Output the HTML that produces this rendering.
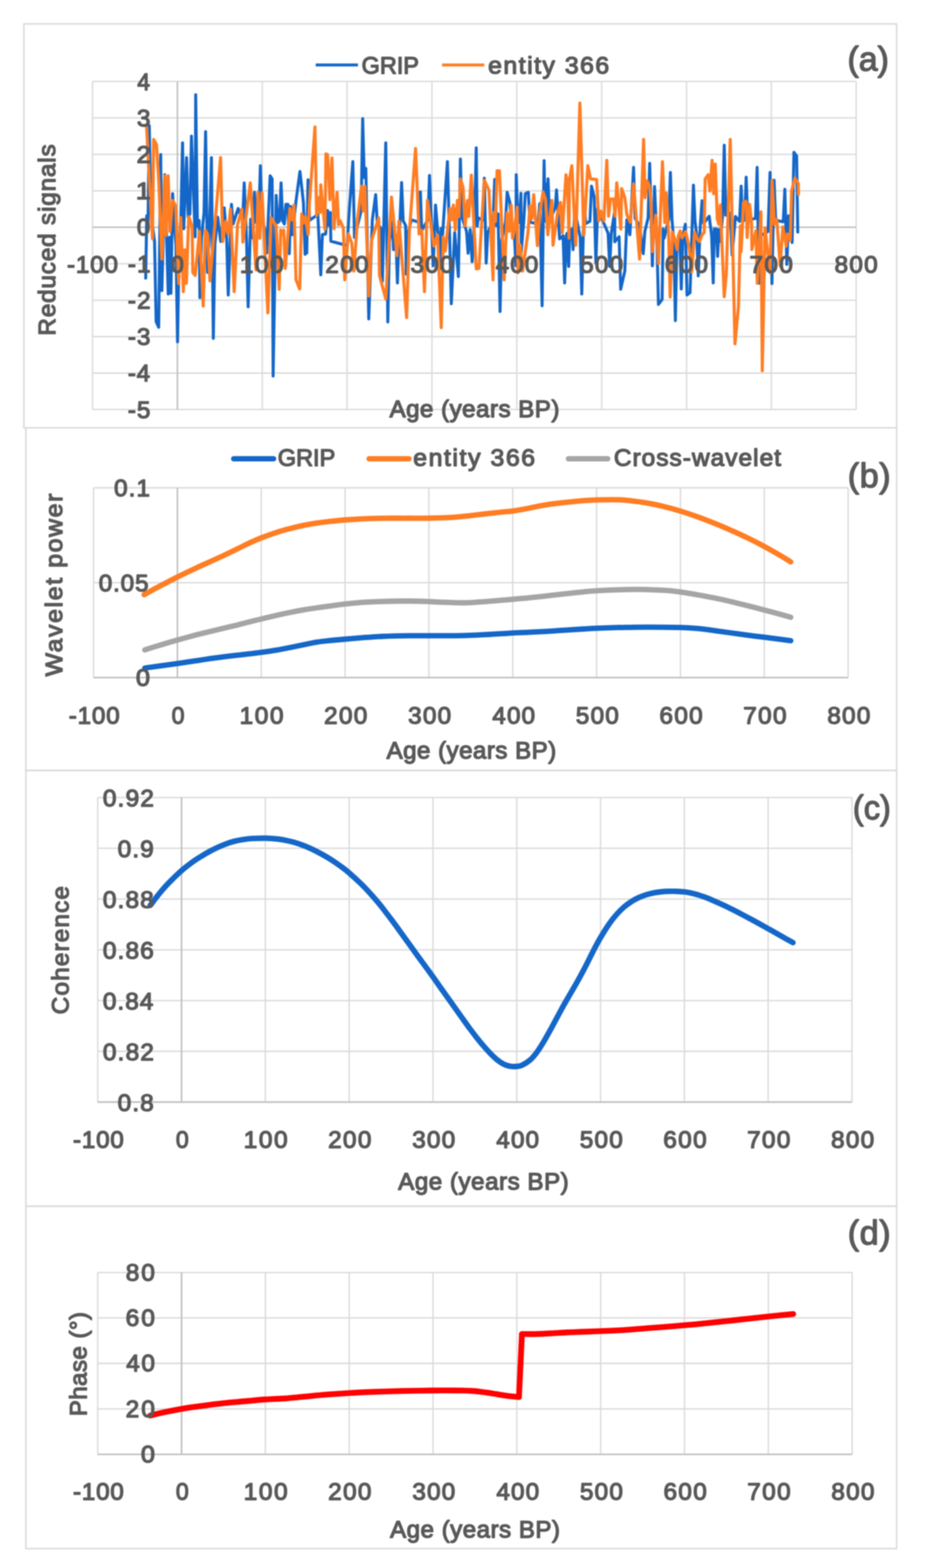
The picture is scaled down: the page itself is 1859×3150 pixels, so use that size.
<!DOCTYPE html>
<html><head><meta charset="utf-8"><title>Figure</title>
<style>
html,body{margin:0;padding:0;background:#fff;}
body{width:1859px;height:3150px;overflow:hidden;}
svg{display:block;font-family:"Liberation Sans",sans-serif;font-weight:normal;filter:blur(0.8px);}
text{fill:#595959;stroke:#595959;stroke-width:2.4px;stroke-linejoin:round;}
</style></head><body>
<svg xmlns="http://www.w3.org/2000/svg" width="1859" height="3150" viewBox="0 0 1859 3150">
<rect x="0" y="0" width="1859" height="3150" fill="#fff"/>
<rect x="48.00" y="48.00" width="1754.00" height="811.50" fill="none" stroke="#DADADA" stroke-width="3"/>
<rect x="52.00" y="859.50" width="1750.00" height="688.20" fill="none" stroke="#DADADA" stroke-width="3"/>
<rect x="52.00" y="1547.70" width="1750.00" height="875.50" fill="none" stroke="#DADADA" stroke-width="3"/>
<rect x="52.00" y="2423.20" width="1750.00" height="687.80" fill="none" stroke="#DADADA" stroke-width="3"/>
<line x1="186.00" y1="163.70" x2="1720.70" y2="163.70" stroke="#DBDBDB" stroke-width="2.8"/>
<line x1="186.00" y1="236.92" x2="1720.70" y2="236.92" stroke="#DBDBDB" stroke-width="2.8"/>
<line x1="186.00" y1="310.14" x2="1720.70" y2="310.14" stroke="#DBDBDB" stroke-width="2.8"/>
<line x1="186.00" y1="383.37" x2="1720.70" y2="383.37" stroke="#DBDBDB" stroke-width="2.8"/>
<line x1="186.00" y1="456.59" x2="1720.70" y2="456.59" stroke="#DBDBDB" stroke-width="2.8"/>
<line x1="186.00" y1="529.81" x2="1720.70" y2="529.81" stroke="#DBDBDB" stroke-width="2.8"/>
<line x1="186.00" y1="603.03" x2="1720.70" y2="603.03" stroke="#DBDBDB" stroke-width="2.8"/>
<line x1="186.00" y1="676.26" x2="1720.70" y2="676.26" stroke="#DBDBDB" stroke-width="2.8"/>
<line x1="186.00" y1="749.48" x2="1720.70" y2="749.48" stroke="#DBDBDB" stroke-width="2.8"/>
<line x1="186.00" y1="822.70" x2="1720.70" y2="822.70" stroke="#DBDBDB" stroke-width="2.8"/>
<line x1="186.00" y1="163.70" x2="186.00" y2="822.70" stroke="#DBDBDB" stroke-width="2.8"/>
<line x1="356.52" y1="163.70" x2="356.52" y2="822.70" stroke="#DBDBDB" stroke-width="2.8"/>
<line x1="527.04" y1="163.70" x2="527.04" y2="822.70" stroke="#DBDBDB" stroke-width="2.8"/>
<line x1="697.57" y1="163.70" x2="697.57" y2="822.70" stroke="#DBDBDB" stroke-width="2.8"/>
<line x1="868.09" y1="163.70" x2="868.09" y2="822.70" stroke="#DBDBDB" stroke-width="2.8"/>
<line x1="1038.61" y1="163.70" x2="1038.61" y2="822.70" stroke="#DBDBDB" stroke-width="2.8"/>
<line x1="1209.13" y1="163.70" x2="1209.13" y2="822.70" stroke="#DBDBDB" stroke-width="2.8"/>
<line x1="1379.66" y1="163.70" x2="1379.66" y2="822.70" stroke="#DBDBDB" stroke-width="2.8"/>
<line x1="1550.18" y1="163.70" x2="1550.18" y2="822.70" stroke="#DBDBDB" stroke-width="2.8"/>
<line x1="1720.70" y1="163.70" x2="1720.70" y2="822.70" stroke="#DBDBDB" stroke-width="2.8"/>
<line x1="356.52" y1="163.70" x2="356.52" y2="822.70" stroke="#BFBFBF" stroke-width="3"/>
<line x1="186.00" y1="456.59" x2="1720.70" y2="456.59" stroke="#BFBFBF" stroke-width="3"/>
<polyline points="292.8,558.8 294.9,433.6 297.4,453.5 300.0,252.5 303.2,426.3 310.6,485.4 313.8,646.0 318.9,657.5 323.0,310.6 325.3,583.8 331.1,351.1 338.1,590.6 340.8,476.8 343.5,589.2 346.9,389.0 350.1,446.8 353.6,491.4 356.8,686.6 360.0,491.4 363.7,431.5 366.9,286.9 369.2,459.5 375.0,316.7 378.2,436.0 381.6,429.5 384.8,273.4 392.2,475.7 393.3,190.3 396.8,454.9 400.3,443.1 401.7,598.0 404.9,478.2 410.0,428.1 413.2,264.6 417.2,547.3 420.4,470.6 421.7,436.0 424.9,316.7 428.7,679.8 431.9,490.4 437.5,436.3 443.6,485.2 450.6,417.4 455.5,477.3 458.7,592.6 465.2,410.6 468.4,450.0 478.7,418.8 487.6,443.6 490.8,367.4 494.0,443.6 495.5,480.9 498.7,616.3 503.7,440.4 508.4,478.4 511.4,386.3 514.6,446.4 520.1,438.4 523.3,332.9 526.5,438.4 532.9,464.7 536.1,508.1 542.9,353.2 546.9,359.3 548.9,755.5 555.0,392.4 558.2,447.3 561.7,443.6 564.9,367.4 568.1,443.6 571.4,450.0 574.6,410.6 578.7,410.6 581.4,509.5 584.1,414.7 587.5,471.6 594.9,403.9 602.8,344.4 609.8,406.6 613.2,510.8 614.9,464.7 616.5,508.1 619.0,361.3 622.2,442.6 638.8,430.9 644.7,552.1 647.9,471.3 654.4,470.3 658.4,422.8 661.2,452.5 663.9,426.9 664.9,484.5 697.6,493.3 702.3,417.4 709.1,324.8 712.4,477.0 725.7,424.2 728.9,238.3 732.0,356.6 735.2,338.3 741.1,640.6 748.3,441.7 755.0,391.0 758.2,447.1 766.5,460.7 768.5,564.9 775.3,286.9 779.4,646.7 782.6,485.5 788.8,444.4 790.9,501.4 795.5,473.7 798.7,568.3 801.9,473.7 803.9,443.5 807.1,366.7 810.3,443.5 815.2,453.2 816.5,550.7 819.7,471.1 826.7,441.7 841.7,446.3 844.9,385.6 847.6,463.5 854.4,451.2 860.0,441.3 863.2,352.5 870.6,533.8 875.3,412.0 878.5,450.2 880.2,469.5 883.4,540.6 886.4,459.2 889.5,471.5 899.2,324.8 902.4,437.2 903.8,480.0 907.0,610.2 913.8,467.4 921.2,555.5 925.3,319.4 928.5,436.4 937.6,464.8 940.8,508.8 944.9,461.3 948.9,525.7 952.1,467.3 953.9,433.0 957.1,297.1 959.1,454.1 961.1,437.7 970.1,442.1 973.3,357.9 977.1,528.4 980.3,467.7 991.0,442.5 994.2,360.6 997.6,452.9 1001.0,429.6 1005.0,625.7 1008.2,482.3 1016.0,446.4 1019.2,386.3 1024.7,406.6 1027.9,449.4 1033.6,468.5 1036.8,533.8 1037.5,351.1 1040.7,441.1 1043.8,446.7 1047.0,388.3 1047.6,506.8 1050.8,464.5 1052.5,446.8 1055.7,389.0 1061.8,386.3 1065.0,446.4 1081.5,449.8 1084.7,409.3 1089.5,614.3 1093.5,322.8 1095.5,444.0 1097.6,370.1 1099.5,444.0 1101.4,359.3 1104.6,442.3 1115.8,417.4 1118.5,381.6 1124.6,479.7 1131.6,473.7 1134.8,568.3 1138.0,473.7 1139.7,468.7 1142.9,535.2 1145.2,460.4 1147.6,479.6 1149.6,460.4 1151.7,501.4 1155.0,420.1 1166.0,477.0 1169.2,590.6 1174.0,405.2 1177.2,449.2 1185.6,444.6 1188.8,374.1 1194.2,395.8 1197.6,528.4 1201.0,418.7 1222.1,468.7 1225.3,535.2 1228.5,468.7 1235.5,424.2 1235.5,485.8 1244.2,475.6 1247.4,581.1 1255.7,544.6 1259.8,441.7 1265.9,471.6 1273.3,336.3 1276.5,438.9 1285.4,453.9 1292.8,509.5 1296.0,464.9 1302.5,437.7 1305.7,328.2 1311.1,533.8 1315.4,374.8 1318.6,444.7 1320.1,480.2 1323.3,611.6 1330.7,601.4 1332.7,460.2 1334.8,478.2 1344.1,440.4 1347.3,346.4 1350.5,440.4 1354.1,485.0 1357.3,644.0 1360.5,485.0 1366.0,475.5 1369.2,580.5 1372.4,475.5 1377.3,450.5 1380.7,592.6 1386.8,587.9 1393.6,372.1 1396.8,444.3 1400.1,471.6 1403.3,554.1 1406.5,471.6 1407.7,448.9 1410.9,403.2 1414.1,448.9 1425.3,434.3 1430.2,473.7 1433.4,568.3 1435.5,460.1 1437.5,477.6 1439.9,460.1 1442.2,514.9 1444.9,461.2 1447.6,485.0 1452.3,432.2 1455.5,291.7 1458.7,432.2 1467.9,428.2 1471.3,512.2 1478.1,435.0 1486.3,444.6 1489.5,374.1 1492.7,444.6 1496.4,441.8 1499.6,355.9 1502.8,441.8 1518.4,438.9 1521.6,336.3 1525.3,569.0 1528.5,473.8 1543.5,464.9 1547.6,346.4 1551.4,569.6 1555.7,362.0 1558.9,442.7 1574.1,445.5 1577.3,380.2 1581.4,531.1 1584.8,433.6 1591.9,487.2 1595.6,305.9 1601.0,313.3 1602.3,399.8 1603.3,466.2" fill="none" stroke="#1467C8" stroke-width="6.0" stroke-linejoin="round" stroke-linecap="round"/>
<polyline points="294.6,255.2 306.4,479.7 308.8,280.2 314.5,290.3 319.2,364.7 325.3,520.3 331.1,353.2 333.4,473.0 337.9,353.2 341.5,464.9 346.9,402.5 353.0,413.3 359.1,569.6 363.1,437.0 368.5,585.9 371.6,501.8 374.6,569.0 379.4,435.0 386.1,455.2 387.5,547.3 392.2,553.4 401.0,464.7 408.4,614.9 412.8,462.5 417.2,470.8 421.9,564.2 435.5,409.3 443.3,316.7 447.6,485.2 453.7,444.4 458.4,469.6 463.2,420.1 470.6,585.9 477.4,451.2 486.1,420.1 488.1,486.5 503.0,367.4 514.5,541.9 518.5,386.3 521.9,478.4 526.6,387.0 538.4,628.5 544.9,437.7 555.0,453.9 561.1,581.1 564.2,462.2 567.2,470.1 570.2,462.2 573.3,539.2 582.7,418.7 586.8,441.7 590.9,412.0 594.9,562.2 602.3,580.5 606.4,429.6 610.1,448.2 613.8,435.0 619.2,471.0 621.9,407.9 633.0,255.2 636.3,433.0 639.5,397.1 643.6,427.0 644.7,371.4 653.0,460.8 655.1,309.2 658.4,310.6 662.8,401.1 667.2,317.4 671.3,459.5 677.4,386.3 680.4,451.4 683.4,443.1 690.1,458.0 692.8,562.2 699.9,469.5 707.0,488.4 711.1,544.6 718.5,440.4 726.6,374.1 730.0,423.9 733.4,374.1 741.1,594.7 746.9,482.3 761.1,437.7 762.5,552.7 775.3,600.7 786.8,395.8 797.6,513.5 801.7,444.4 817.2,637.9 822.6,468.1 835.2,298.4 842.2,470.1 847.6,462.2 853.0,585.9 859.1,402.5 872.0,494.5 879.4,472.0 886.8,658.2 890.8,475.8 894.9,504.1 904.3,418.7 907.7,441.7 911.1,412.0 915.1,462.0 919.2,402.5 922.2,435.2 925.3,359.3 930.7,376.8 934.8,453.9 939.5,402.5 942.2,435.0 947.2,351.8 957.1,539.9 962.5,539.2 973.3,362.0 982.7,382.2 990.9,562.2 992.2,426.9 995.6,444.9 999.0,343.0 1003.7,343.0 1013.2,562.2 1019.2,426.9 1023.3,464.7 1027.4,412.0 1030.1,478.4 1032.8,467.4 1039.5,416.0 1040.9,548.0 1045.6,492.1 1050.3,544.6 1061.2,466.2 1065.2,413.3 1068.9,439.5 1072.6,391.0 1080.0,493.3 1084.7,426.9 1091.5,385.6 1096.2,399.8 1101.0,471.6 1109.1,402.5 1111.4,492.6 1120.6,426.9 1126.6,406.6 1130.0,467.6 1137.5,351.1 1140.8,372.8 1143.5,478.4 1144.2,362.0 1149.2,332.9 1157.1,492.6 1165.4,207.2 1173.3,472.3 1181.4,332.9 1186.8,359.3 1199.0,360.6 1203.4,443.9 1207.8,424.2 1213.6,443.9 1219.5,322.1 1223.1,434.1 1226.7,399.8 1232.8,399.8 1236.1,434.1 1239.5,367.4 1247.6,460.1 1249.3,378.9 1255.7,397.1 1259.8,430.9 1266.6,446.6 1273.3,369.4 1285.4,520.3 1293.5,280.2 1296.2,397.1 1300.3,363.3 1305.0,372.8 1308.4,407.9 1311.1,505.4 1317.9,432.3 1323.3,529.1 1331.4,324.8 1336.1,447.1 1338.8,387.7 1343.5,464.7 1346.9,596.7 1351.3,466.0 1355.7,479.6 1361.1,501.4 1363.1,474.2 1366.9,463.9 1370.6,477.6 1378.0,465.2 1385.4,498.5 1390.2,546.0 1395.9,466.6 1401.7,480.9 1405.7,485.2 1411.1,471.5 1415.2,467.4 1417.2,359.3 1423.3,351.1 1426.7,383.6 1431.1,322.1 1434.1,389.0 1437.5,329.5 1441.6,440.4 1444.6,450.4 1447.6,412.0 1455.5,596.0 1459.8,548.7 1467.6,280.2 1477.1,690.6 1484.1,616.3 1488.1,453.9 1489.5,505.4 1494.2,406.6 1499.6,404.5 1501.6,476.9 1506.4,410.6 1510.4,447.1 1511.1,501.4 1519.2,463.4 1521.9,569.0 1529.3,425.5 1532.0,744.7 1537.5,457.9 1547.6,548.0 1551.7,362.6 1556.4,450.4 1561.1,440.4 1567.9,533.8 1573.3,455.9 1580.0,494.6 1582.7,470.1 1588.2,482.4 1590.9,383.6 1597.6,357.9 1604.4,368.7 1604.6,390.4" fill="none" stroke="#FF7D23" stroke-width="6.2" stroke-linejoin="round" stroke-linecap="round"/>
<line x1="634.50" y1="130.40" x2="719.40" y2="130.40" stroke="#1467C8" stroke-width="6"/>
<text transform="matrix(0.9892 0 0 1 726.85 147.90)" font-size="47.6">GRIP</text>
<line x1="888.40" y1="130.40" x2="973.30" y2="130.40" stroke="#FF7D23" stroke-width="6"/>
<text transform="matrix(1.0452 0 0 1 981.09 147.90)" font-size="47.6" letter-spacing="2.92">entity 366</text>
<text transform="matrix(1.0002 0 0 1 1703.25 141.80)" font-size="68" letter-spacing="0.03">(a)</text>
<text transform="matrix(0.9610 0 0 1 275.97 180.60)" font-size="47.6">4</text>
<text transform="matrix(1.0217 0 0 1 275.18 253.82)" font-size="47.6">3</text>
<text transform="matrix(1.0666 0 0 1 274.46 327.04)" font-size="47.6">2</text>
<text transform="matrix(1.1221 0 0 1 272.99 400.27)" font-size="47.6">1</text>
<text transform="matrix(1.0163 0 0 1 275.06 473.49)" font-size="47.6">0</text>
<text transform="matrix(1.0202 0 0 1 257.01 546.71)" font-size="47.6" letter-spacing="2.25">-1</text>
<text transform="matrix(1.0211 0 0 1 257.01 619.93)" font-size="47.6" letter-spacing="2.33">-2</text>
<text transform="matrix(1.0185 0 0 1 257.02 693.16)" font-size="47.6" letter-spacing="2.08">-3</text>
<text transform="matrix(1.0136 0 0 1 257.03 766.38)" font-size="47.6" letter-spacing="1.56">-4</text>
<text transform="matrix(1.0177 0 0 1 257.02 839.60)" font-size="47.6" letter-spacing="1.99">-5</text>
<text transform="matrix(1.0187 0 0 1 134.77 548.40)" font-size="47.6" letter-spacing="1.68">-100</text>
<text transform="matrix(0.9723 0 0 1 343.62 548.40)" font-size="47.6">0</text>
<text transform="matrix(1.0290 0 0 1 482.07 548.40)" font-size="47.6" letter-spacing="3.13">100</text>
<text transform="matrix(1.0246 0 0 1 653.83 548.40)" font-size="47.6" letter-spacing="2.71">200</text>
<text transform="matrix(1.0224 0 0 1 824.96 548.40)" font-size="47.6" letter-spacing="2.49">300</text>
<text transform="matrix(1.0199 0 0 1 996.22 548.40)" font-size="47.6" letter-spacing="2.24">400</text>
<text transform="matrix(1.0228 0 0 1 1165.89 548.40)" font-size="47.6" letter-spacing="2.54">500</text>
<text transform="matrix(1.0246 0 0 1 1335.92 548.40)" font-size="47.6" letter-spacing="2.71">600</text>
<text transform="matrix(1.0250 0 0 1 1506.32 548.40)" font-size="47.6" letter-spacing="2.75">700</text>
<text transform="matrix(1.0233 0 0 1 1677.33 548.40)" font-size="47.6" letter-spacing="2.58">800</text>
<text transform="matrix(1.0145 0 0 1 782.88 838.10)" font-size="47.6" letter-spacing="1.06">Age (years BP)</text>
<text transform="translate(110.90 674.22) rotate(-90) scale(1.0233 1)" font-size="47.6" letter-spacing="1.69">Reduced signals</text>
<line x1="188.00" y1="980.00" x2="1704.50" y2="980.00" stroke="#DBDBDB" stroke-width="2.8"/>
<line x1="188.00" y1="1170.60" x2="1704.50" y2="1170.60" stroke="#DBDBDB" stroke-width="2.8"/>
<line x1="188.00" y1="1361.20" x2="1704.50" y2="1361.20" stroke="#DBDBDB" stroke-width="2.8"/>
<line x1="188.00" y1="980.00" x2="188.00" y2="1361.20" stroke="#DBDBDB" stroke-width="2.8"/>
<line x1="356.50" y1="980.00" x2="356.50" y2="1361.20" stroke="#DBDBDB" stroke-width="2.8"/>
<line x1="525.00" y1="980.00" x2="525.00" y2="1361.20" stroke="#DBDBDB" stroke-width="2.8"/>
<line x1="693.50" y1="980.00" x2="693.50" y2="1361.20" stroke="#DBDBDB" stroke-width="2.8"/>
<line x1="862.00" y1="980.00" x2="862.00" y2="1361.20" stroke="#DBDBDB" stroke-width="2.8"/>
<line x1="1030.50" y1="980.00" x2="1030.50" y2="1361.20" stroke="#DBDBDB" stroke-width="2.8"/>
<line x1="1199.00" y1="980.00" x2="1199.00" y2="1361.20" stroke="#DBDBDB" stroke-width="2.8"/>
<line x1="1367.50" y1="980.00" x2="1367.50" y2="1361.20" stroke="#DBDBDB" stroke-width="2.8"/>
<line x1="1536.00" y1="980.00" x2="1536.00" y2="1361.20" stroke="#DBDBDB" stroke-width="2.8"/>
<line x1="1704.50" y1="980.00" x2="1704.50" y2="1361.20" stroke="#DBDBDB" stroke-width="2.8"/>
<line x1="356.50" y1="980.00" x2="356.50" y2="1361.20" stroke="#BFBFBF" stroke-width="3"/>
<line x1="188.00" y1="1361.20" x2="1704.50" y2="1361.20" stroke="#BFBFBF" stroke-width="3"/>
<path d="M291.0,1342.0 C301.8,1340.5 338.4,1335.5 355.7,1333.1 C373.0,1330.6 383.8,1328.9 394.8,1327.3 C405.8,1325.7 412.7,1324.5 421.7,1323.2 C430.7,1322.0 439.7,1320.8 448.7,1319.7 C457.7,1318.5 466.6,1317.4 475.6,1316.4 C484.6,1315.3 494.5,1314.4 502.6,1313.4 C510.7,1312.5 515.2,1311.9 524.2,1310.7 C533.1,1309.5 546.6,1307.6 556.5,1305.9 C566.4,1304.3 574.5,1302.5 583.5,1300.7 C592.4,1298.9 601.4,1297.0 610.4,1295.2 C619.4,1293.4 629.1,1291.2 637.4,1289.9 C645.6,1288.6 650.6,1288.2 660.0,1287.2 C669.4,1286.2 682.5,1285.0 693.7,1284.0 C704.9,1283.0 715.0,1282.1 727.4,1281.1 C739.7,1280.2 752.1,1279.2 767.8,1278.5 C783.5,1277.9 806.0,1277.4 821.7,1277.2 C837.4,1277.0 848.7,1277.1 862.2,1277.1 C875.6,1277.0 891.4,1277.2 902.6,1277.1 C913.8,1277.1 920.6,1277.0 929.5,1276.8 C938.5,1276.6 947.5,1276.3 956.5,1275.9 C965.5,1275.5 974.5,1274.9 983.5,1274.5 C992.4,1274.0 1002.5,1273.4 1010.4,1272.9 C1018.3,1272.5 1022.4,1272.0 1030.6,1271.6 C1038.9,1271.1 1052.9,1270.6 1060.0,1270.3 C1067.1,1270.0 1065.4,1270.1 1073.2,1269.7 C1081.1,1269.3 1095.7,1268.6 1106.9,1267.9 C1118.2,1267.3 1129.4,1266.4 1140.6,1265.6 C1151.9,1264.9 1164.8,1264.1 1174.3,1263.5 C1183.9,1262.9 1186.7,1262.7 1197.9,1262.2 C1209.1,1261.7 1232.9,1260.9 1241.7,1260.6 C1250.5,1260.3 1240.6,1260.7 1250.5,1260.6 C1260.4,1260.4 1281.4,1259.8 1301.1,1259.8 C1320.7,1259.8 1351.6,1260.2 1368.5,1260.6 C1385.3,1261.1 1390.9,1261.6 1402.2,1262.7 C1413.4,1263.7 1424.6,1265.3 1435.8,1266.8 C1447.1,1268.3 1458.3,1270.0 1469.5,1271.5 C1480.8,1273.1 1492.2,1274.7 1503.2,1276.1 C1514.3,1277.6 1524.7,1278.8 1535.9,1280.2 C1547.1,1281.7 1561.7,1283.5 1570.6,1284.7 C1579.5,1285.8 1586.1,1286.7 1589.2,1287.1" fill="none" stroke="#1467C8" stroke-width="10.8" stroke-linejoin="round" stroke-linecap="round"/>
<path d="M289.6,1194.7 C293.7,1192.5 302.9,1187.2 313.9,1181.3 C324.9,1175.5 342.2,1166.4 355.7,1159.6 C369.2,1152.9 383.8,1146.0 394.8,1140.9 C405.8,1135.7 412.7,1132.8 421.7,1128.7 C430.7,1124.6 439.7,1120.5 448.7,1116.3 C457.7,1112.0 466.6,1107.6 475.6,1103.3 C484.6,1099.0 494.5,1094.0 502.6,1090.2 C510.7,1086.5 515.2,1084.4 524.2,1080.9 C533.1,1077.5 546.6,1072.6 556.5,1069.4 C566.4,1066.2 574.5,1064.1 583.5,1061.7 C592.4,1059.4 601.4,1057.3 610.4,1055.4 C619.4,1053.6 629.1,1051.9 637.4,1050.6 C645.6,1049.4 650.6,1048.8 660.0,1047.8 C669.4,1046.8 682.5,1045.4 693.7,1044.5 C704.9,1043.6 715.0,1042.9 727.4,1042.3 C739.7,1041.7 752.1,1041.3 767.8,1041.1 C783.5,1040.9 806.0,1041.1 821.7,1041.0 C837.4,1041.0 848.7,1041.2 862.2,1041.0 C875.6,1040.7 891.4,1040.2 902.6,1039.6 C913.8,1039.1 920.6,1038.4 929.5,1037.5 C938.5,1036.7 947.5,1035.5 956.5,1034.5 C965.5,1033.5 974.5,1032.4 983.5,1031.4 C992.4,1030.4 1002.5,1029.3 1010.4,1028.5 C1018.3,1027.7 1022.4,1027.7 1030.6,1026.6 C1038.9,1025.4 1052.9,1022.9 1060.0,1021.5 C1067.1,1020.2 1065.4,1020.1 1073.2,1018.7 C1081.1,1017.2 1095.7,1014.4 1106.9,1012.7 C1118.2,1011.1 1129.4,1009.9 1140.6,1008.8 C1151.9,1007.6 1164.8,1006.4 1174.3,1005.6 C1183.9,1004.9 1186.7,1004.6 1197.9,1004.3 C1209.1,1004.1 1231.2,1003.8 1241.7,1004.0 C1252.2,1004.1 1250.8,1004.1 1260.6,1005.2 C1270.5,1006.3 1288.7,1008.5 1301.1,1010.6 C1313.4,1012.7 1323.7,1015.0 1334.8,1017.7 C1345.9,1020.4 1356.6,1023.3 1367.8,1026.8 C1379.0,1030.2 1390.8,1034.3 1402.2,1038.4 C1413.5,1042.5 1424.6,1046.7 1435.8,1051.3 C1447.1,1055.8 1458.3,1060.6 1469.5,1065.5 C1480.8,1070.5 1492.2,1075.6 1503.2,1081.0 C1514.3,1086.4 1524.7,1091.7 1535.9,1097.8 C1547.1,1103.8 1561.7,1112.2 1570.6,1117.4 C1579.5,1122.6 1586.1,1126.9 1589.2,1128.8" fill="none" stroke="#FF7D23" stroke-width="10.8" stroke-linejoin="round" stroke-linecap="round"/>
<path d="M291.0,1305.6 C294.8,1304.4 303.1,1301.6 313.9,1298.4 C324.7,1295.1 342.2,1289.8 355.7,1286.0 C369.2,1282.2 383.8,1278.2 394.8,1275.3 C405.8,1272.5 412.7,1270.8 421.7,1268.7 C430.7,1266.5 439.7,1264.4 448.7,1262.3 C457.7,1260.1 466.6,1258.1 475.6,1255.9 C484.6,1253.6 494.5,1251.0 502.6,1249.0 C510.7,1247.0 515.2,1245.8 524.2,1243.7 C533.1,1241.5 546.6,1238.2 556.5,1236.0 C566.4,1233.8 574.5,1232.1 583.5,1230.3 C592.4,1228.5 601.4,1226.7 610.4,1225.2 C619.4,1223.6 629.1,1222.2 637.4,1221.0 C645.6,1219.8 650.6,1219.1 660.0,1217.8 C669.4,1216.6 682.5,1214.6 693.7,1213.4 C704.9,1212.1 715.0,1211.1 727.4,1210.2 C739.7,1209.4 752.1,1208.8 767.8,1208.3 C783.5,1207.8 806.0,1207.4 821.7,1207.5 C837.4,1207.5 851.8,1208.1 862.2,1208.5 C872.5,1208.8 872.5,1209.2 883.7,1209.6 C895.0,1210.0 917.4,1211.0 929.5,1211.0 C941.7,1211.1 947.5,1210.3 956.5,1209.8 C965.5,1209.3 974.5,1208.6 983.5,1207.9 C992.4,1207.2 1002.5,1206.4 1010.4,1205.7 C1018.3,1205.0 1022.4,1204.6 1030.6,1203.9 C1038.9,1203.1 1052.9,1201.9 1060.0,1201.3 C1067.1,1200.6 1065.4,1200.7 1073.2,1199.9 C1081.1,1199.0 1095.7,1197.5 1106.9,1196.2 C1118.2,1195.0 1129.4,1193.6 1140.6,1192.4 C1151.9,1191.1 1164.8,1189.7 1174.3,1188.8 C1183.9,1187.9 1186.7,1187.5 1197.9,1186.8 C1209.1,1186.1 1227.3,1185.2 1241.7,1184.8 C1256.1,1184.3 1268.7,1183.9 1284.2,1184.1 C1299.7,1184.3 1320.8,1185.0 1334.8,1185.9 C1348.7,1186.8 1356.6,1187.8 1367.8,1189.3 C1379.0,1190.8 1390.8,1193.0 1402.2,1195.0 C1413.5,1197.0 1424.6,1199.0 1435.8,1201.3 C1447.1,1203.6 1458.3,1206.0 1469.5,1208.7 C1480.8,1211.3 1492.2,1214.2 1503.2,1217.0 C1514.3,1219.8 1524.7,1222.5 1535.9,1225.4 C1547.1,1228.4 1561.7,1232.3 1570.6,1234.7 C1579.5,1237.1 1586.1,1239.1 1589.2,1240.0" fill="none" stroke="#A5A5A5" stroke-width="10.8" stroke-linejoin="round" stroke-linecap="round"/>
<line x1="469.70" y1="921.60" x2="549.80" y2="921.60" stroke="#1467C8" stroke-width="10.8" stroke-linecap="round"/>
<text transform="matrix(0.9937 0 0 1 558.14 935.60)" font-size="47.6">GRIP</text>
<line x1="741.80" y1="921.60" x2="822.00" y2="921.60" stroke="#FF7D23" stroke-width="10.8" stroke-linecap="round"/>
<text transform="matrix(1.0473 0 0 1 830.48 935.60)" font-size="47.6" letter-spacing="3.05">entity 366</text>
<line x1="1142.40" y1="921.60" x2="1221.40" y2="921.60" stroke="#A5A5A5" stroke-width="10.8" stroke-linecap="round"/>
<text transform="matrix(1.0288 0 0 1 1233.65 935.60)" font-size="47.6" letter-spacing="2.09">Cross-wavelet</text>
<text transform="matrix(1.0093 0 0 1 1703.81 978.80)" font-size="68" letter-spacing="1.03">(b)</text>
<text transform="matrix(1.0238 0 0 1 229.15 996.90)" font-size="47.6" letter-spacing="2.16">0.1</text>
<text transform="matrix(1.0206 0 0 1 198.46 1187.50)" font-size="47.6" letter-spacing="1.79">0.05</text>
<text transform="matrix(1.0603 0 0 1 273.28 1378.10)" font-size="47.6">0</text>
<text transform="matrix(1.0187 0 0 1 138.27 1454.10)" font-size="47.6" letter-spacing="1.68">-100</text>
<text transform="matrix(0.9723 0 0 1 345.10 1454.10)" font-size="47.6">0</text>
<text transform="matrix(1.0290 0 0 1 481.53 1454.10)" font-size="47.6" letter-spacing="3.13">100</text>
<text transform="matrix(1.0246 0 0 1 651.26 1454.10)" font-size="47.6" letter-spacing="2.71">200</text>
<text transform="matrix(1.0224 0 0 1 820.37 1454.10)" font-size="47.6" letter-spacing="2.49">300</text>
<text transform="matrix(1.0199 0 0 1 989.61 1454.10)" font-size="47.6" letter-spacing="2.24">400</text>
<text transform="matrix(1.0228 0 0 1 1157.25 1454.10)" font-size="47.6" letter-spacing="2.54">500</text>
<text transform="matrix(1.0246 0 0 1 1325.26 1454.10)" font-size="47.6" letter-spacing="2.71">600</text>
<text transform="matrix(1.0250 0 0 1 1493.64 1454.10)" font-size="47.6" letter-spacing="2.75">700</text>
<text transform="matrix(1.0233 0 0 1 1662.63 1454.10)" font-size="47.6" letter-spacing="2.58">800</text>
<text transform="matrix(1.0141 0 0 1 776.98 1523.90)" font-size="47.6" letter-spacing="1.03">Age (years BP)</text>
<text transform="translate(124.80 1358.85) rotate(-90) scale(1.0435 1)" font-size="47.6" letter-spacing="3.25">Wavelet power</text>
<line x1="196.40" y1="1602.10" x2="1712.20" y2="1602.10" stroke="#DBDBDB" stroke-width="2.8"/>
<line x1="196.40" y1="1704.08" x2="1712.20" y2="1704.08" stroke="#DBDBDB" stroke-width="2.8"/>
<line x1="196.40" y1="1806.07" x2="1712.20" y2="1806.07" stroke="#DBDBDB" stroke-width="2.8"/>
<line x1="196.40" y1="1908.05" x2="1712.20" y2="1908.05" stroke="#DBDBDB" stroke-width="2.8"/>
<line x1="196.40" y1="2010.03" x2="1712.20" y2="2010.03" stroke="#DBDBDB" stroke-width="2.8"/>
<line x1="196.40" y1="2112.02" x2="1712.20" y2="2112.02" stroke="#DBDBDB" stroke-width="2.8"/>
<line x1="196.40" y1="2214.00" x2="1712.20" y2="2214.00" stroke="#DBDBDB" stroke-width="2.8"/>
<line x1="196.40" y1="1602.10" x2="196.40" y2="2214.00" stroke="#DBDBDB" stroke-width="2.8"/>
<line x1="364.82" y1="1602.10" x2="364.82" y2="2214.00" stroke="#DBDBDB" stroke-width="2.8"/>
<line x1="533.24" y1="1602.10" x2="533.24" y2="2214.00" stroke="#DBDBDB" stroke-width="2.8"/>
<line x1="701.67" y1="1602.10" x2="701.67" y2="2214.00" stroke="#DBDBDB" stroke-width="2.8"/>
<line x1="870.09" y1="1602.10" x2="870.09" y2="2214.00" stroke="#DBDBDB" stroke-width="2.8"/>
<line x1="1038.51" y1="1602.10" x2="1038.51" y2="2214.00" stroke="#DBDBDB" stroke-width="2.8"/>
<line x1="1206.93" y1="1602.10" x2="1206.93" y2="2214.00" stroke="#DBDBDB" stroke-width="2.8"/>
<line x1="1375.36" y1="1602.10" x2="1375.36" y2="2214.00" stroke="#DBDBDB" stroke-width="2.8"/>
<line x1="1543.78" y1="1602.10" x2="1543.78" y2="2214.00" stroke="#DBDBDB" stroke-width="2.8"/>
<line x1="1712.20" y1="1602.10" x2="1712.20" y2="2214.00" stroke="#DBDBDB" stroke-width="2.8"/>
<line x1="364.82" y1="1602.10" x2="364.82" y2="2214.00" stroke="#BFBFBF" stroke-width="3"/>
<line x1="196.40" y1="2214.00" x2="1712.20" y2="2214.00" stroke="#BFBFBF" stroke-width="3"/>
<path d="M302.0,1818.8 C305.1,1814.8 314.6,1802.0 320.5,1794.8 C326.4,1787.6 329.8,1783.3 337.4,1775.5 C345.0,1767.7 357.6,1755.4 366.0,1748.0 C374.4,1740.5 381.5,1735.7 387.9,1731.0 C394.4,1726.4 399.2,1723.5 404.8,1720.1 C410.4,1716.6 416.0,1713.3 421.6,1710.3 C427.2,1707.3 432.8,1704.4 438.5,1701.9 C444.1,1699.3 449.7,1697.0 455.3,1695.0 C460.9,1692.9 466.5,1691.2 472.2,1689.8 C477.8,1688.4 483.4,1687.4 489.0,1686.5 C494.6,1685.6 498.3,1685.0 505.8,1684.5 C513.4,1684.1 526.1,1683.7 534.5,1683.8 C542.9,1684.0 549.9,1684.7 556.4,1685.4 C562.8,1686.1 567.6,1686.9 573.2,1688.0 C578.8,1689.1 584.5,1690.4 590.1,1691.9 C595.7,1693.5 601.3,1695.4 606.9,1697.5 C612.5,1699.5 618.2,1701.8 623.8,1704.3 C629.4,1706.9 635.0,1709.7 640.6,1712.7 C646.2,1715.6 651.9,1718.8 657.5,1722.1 C663.1,1725.5 668.7,1729.0 674.3,1732.8 C679.9,1736.7 686.7,1741.6 691.2,1745.0 C695.7,1748.4 695.7,1748.2 701.3,1753.2 C706.9,1758.1 718.1,1768.3 724.9,1774.8 C731.6,1781.3 736.1,1786.1 741.7,1792.2 C747.3,1798.3 753.8,1805.8 758.5,1811.4 C763.3,1816.9 765.3,1819.6 770.0,1825.6 C774.7,1831.7 781.2,1840.2 786.8,1847.7 C792.5,1855.2 798.1,1863.0 803.7,1870.7 C809.3,1878.4 814.9,1886.3 820.5,1894.1 C826.2,1901.9 832.5,1910.8 837.4,1917.6 C842.3,1924.3 845.7,1928.8 850.0,1934.7 C854.3,1940.6 859.0,1946.9 863.5,1953.1 C868.0,1959.3 872.5,1965.6 877.0,1972.0 C881.4,1978.3 885.9,1984.8 890.4,1991.1 C894.9,1997.5 899.4,2003.8 903.9,2010.1 C908.4,2016.4 912.9,2022.6 917.4,2028.9 C921.9,2035.2 926.4,2041.6 930.9,2047.9 C935.4,2054.1 939.8,2060.5 944.3,2066.5 C948.8,2072.6 953.3,2078.5 957.8,2084.2 C962.3,2089.9 966.8,2095.5 971.3,2100.7 C975.8,2106.0 980.3,2111.0 984.8,2115.6 C989.3,2120.2 993.8,2124.7 998.2,2128.3 C1002.7,2132.0 1007.2,2135.1 1011.7,2137.4 C1016.2,2139.7 1020.7,2141.2 1025.2,2142.1 C1029.7,2142.9 1034.6,2142.8 1038.7,2142.4 C1042.7,2142.0 1045.0,2142.0 1049.5,2139.8 C1054.0,2137.6 1060.7,2133.6 1065.6,2129.3 C1070.6,2124.9 1074.6,2119.8 1079.1,2113.7 C1083.6,2107.6 1088.1,2100.2 1092.6,2092.8 C1097.1,2085.3 1101.6,2077.1 1106.1,2069.0 C1110.6,2060.9 1115.0,2052.4 1119.5,2044.1 C1124.0,2035.8 1128.5,2027.4 1133.0,2019.3 C1137.5,2011.3 1142.0,2003.6 1146.5,1995.8 C1151.0,1988.0 1155.5,1980.6 1160.0,1972.6 C1164.5,1964.5 1167.6,1958.9 1173.5,1947.7 C1179.3,1936.6 1189.4,1916.1 1194.8,1905.6 C1200.3,1895.2 1201.2,1893.2 1206.1,1884.9 C1211.0,1876.5 1218.9,1863.7 1224.5,1855.7 C1230.0,1847.7 1234.4,1842.5 1239.3,1836.9 C1244.2,1831.3 1249.2,1826.4 1254.1,1822.1 C1259.1,1817.8 1264.0,1814.4 1268.9,1811.2 C1273.9,1808.1 1278.8,1805.5 1283.8,1803.2 C1288.7,1800.9 1293.7,1799.1 1298.6,1797.5 C1303.5,1795.9 1308.5,1794.7 1313.4,1793.7 C1318.4,1792.7 1323.3,1792.1 1328.2,1791.6 C1333.2,1791.1 1338.1,1790.8 1343.1,1790.7 C1348.0,1790.5 1352.5,1790.4 1357.9,1790.6 C1363.3,1790.8 1370.7,1791.3 1375.7,1791.8 C1380.6,1792.3 1383.1,1792.8 1387.5,1793.7 C1392.0,1794.7 1397.4,1796.1 1402.4,1797.5 C1407.3,1799.0 1412.3,1800.8 1417.2,1802.6 C1422.1,1804.4 1427.1,1806.5 1432.0,1808.6 C1437.0,1810.7 1441.9,1812.9 1446.8,1815.1 C1451.8,1817.3 1456.7,1819.6 1461.7,1822.0 C1466.6,1824.4 1471.6,1826.8 1476.5,1829.4 C1481.4,1831.9 1486.4,1834.5 1491.3,1837.1 C1496.3,1839.7 1501.2,1842.3 1506.1,1845.0 C1511.1,1847.6 1514.6,1849.5 1521.0,1853.0 C1527.3,1856.5 1536.7,1861.7 1544.1,1865.8 C1551.5,1870.0 1559.4,1874.5 1565.4,1877.9 C1571.5,1881.3 1575.6,1883.7 1580.3,1886.3 C1585.0,1888.9 1591.4,1892.4 1593.6,1893.6" fill="none" stroke="#1467C8" stroke-width="11.2" stroke-linejoin="round" stroke-linecap="round"/>
<text transform="matrix(0.9615 0 0 1 1714.11 1645.80)" font-size="68">(c)</text>
<text transform="matrix(1.0280 0 0 1 206.64 1619.60)" font-size="47.6" letter-spacing="2.41">0.92</text>
<text transform="matrix(1.0253 0 0 1 236.45 1721.58)" font-size="47.6" letter-spacing="2.30">0.9</text>
<text transform="matrix(1.0269 0 0 1 206.64 1823.57)" font-size="47.6" letter-spacing="2.32">0.88</text>
<text transform="matrix(1.0269 0 0 1 206.64 1925.55)" font-size="47.6" letter-spacing="2.32">0.86</text>
<text transform="matrix(1.0247 0 0 1 206.65 2027.53)" font-size="47.6" letter-spacing="2.15">0.84</text>
<text transform="matrix(1.0280 0 0 1 206.64 2129.52)" font-size="47.6" letter-spacing="2.41">0.82</text>
<text transform="matrix(1.0248 0 0 1 236.45 2231.50)" font-size="47.6" letter-spacing="2.26">0.8</text>
<text transform="matrix(1.0187 0 0 1 146.67 2306.30)" font-size="47.6" letter-spacing="1.68">-100</text>
<text transform="matrix(0.9723 0 0 1 353.42 2306.30)" font-size="47.6">0</text>
<text transform="matrix(1.0290 0 0 1 489.77 2306.30)" font-size="47.6" letter-spacing="3.13">100</text>
<text transform="matrix(1.0246 0 0 1 659.43 2306.30)" font-size="47.6" letter-spacing="2.71">200</text>
<text transform="matrix(1.0224 0 0 1 828.46 2306.30)" font-size="47.6" letter-spacing="2.49">300</text>
<text transform="matrix(1.0199 0 0 1 997.62 2306.30)" font-size="47.6" letter-spacing="2.24">400</text>
<text transform="matrix(1.0228 0 0 1 1165.19 2306.30)" font-size="47.6" letter-spacing="2.54">500</text>
<text transform="matrix(1.0246 0 0 1 1333.12 2306.30)" font-size="47.6" letter-spacing="2.71">600</text>
<text transform="matrix(1.0250 0 0 1 1501.42 2306.30)" font-size="47.6" letter-spacing="2.75">700</text>
<text transform="matrix(1.0233 0 0 1 1670.33 2306.30)" font-size="47.6" letter-spacing="2.58">800</text>
<text transform="matrix(1.0155 0 0 1 800.28 2389.60)" font-size="47.6" letter-spacing="1.13">Age (years BP)</text>
<text transform="translate(137.60 2037.64) rotate(-90) scale(1.0271 1)" font-size="47.6" letter-spacing="2.26">Coherence</text>
<line x1="196.40" y1="2556.30" x2="1712.60" y2="2556.30" stroke="#DBDBDB" stroke-width="2.8"/>
<line x1="196.40" y1="2647.65" x2="1712.60" y2="2647.65" stroke="#DBDBDB" stroke-width="2.8"/>
<line x1="196.40" y1="2739.00" x2="1712.60" y2="2739.00" stroke="#DBDBDB" stroke-width="2.8"/>
<line x1="196.40" y1="2830.35" x2="1712.60" y2="2830.35" stroke="#DBDBDB" stroke-width="2.8"/>
<line x1="196.40" y1="2921.70" x2="1712.60" y2="2921.70" stroke="#DBDBDB" stroke-width="2.8"/>
<line x1="196.40" y1="2556.30" x2="196.40" y2="2921.70" stroke="#DBDBDB" stroke-width="2.8"/>
<line x1="364.87" y1="2556.30" x2="364.87" y2="2921.70" stroke="#DBDBDB" stroke-width="2.8"/>
<line x1="533.33" y1="2556.30" x2="533.33" y2="2921.70" stroke="#DBDBDB" stroke-width="2.8"/>
<line x1="701.80" y1="2556.30" x2="701.80" y2="2921.70" stroke="#DBDBDB" stroke-width="2.8"/>
<line x1="870.27" y1="2556.30" x2="870.27" y2="2921.70" stroke="#DBDBDB" stroke-width="2.8"/>
<line x1="1038.73" y1="2556.30" x2="1038.73" y2="2921.70" stroke="#DBDBDB" stroke-width="2.8"/>
<line x1="1207.20" y1="2556.30" x2="1207.20" y2="2921.70" stroke="#DBDBDB" stroke-width="2.8"/>
<line x1="1375.67" y1="2556.30" x2="1375.67" y2="2921.70" stroke="#DBDBDB" stroke-width="2.8"/>
<line x1="1544.13" y1="2556.30" x2="1544.13" y2="2921.70" stroke="#DBDBDB" stroke-width="2.8"/>
<line x1="1712.60" y1="2556.30" x2="1712.60" y2="2921.70" stroke="#DBDBDB" stroke-width="2.8"/>
<line x1="364.87" y1="2556.30" x2="364.87" y2="2921.70" stroke="#BFBFBF" stroke-width="3"/>
<line x1="196.40" y1="2921.70" x2="1712.60" y2="2921.70" stroke="#BFBFBF" stroke-width="3"/>
<path d="M301.8,2843.8 C306.0,2842.8 316.7,2839.8 327.4,2837.6 C338.0,2835.3 354.4,2832.1 365.7,2830.2 C376.9,2828.2 385.4,2827.1 394.8,2825.8 C404.1,2824.5 412.7,2823.3 421.7,2822.2 C430.7,2821.0 439.7,2820.0 448.7,2819.0 C457.7,2818.1 466.6,2817.2 475.6,2816.4 C484.6,2815.6 492.9,2814.9 502.6,2814.1 C512.2,2813.2 524.6,2812.0 533.6,2811.4 C542.6,2810.7 549.9,2810.5 556.5,2810.1 C563.1,2809.8 566.9,2809.8 573.1,2809.4 C579.3,2808.9 584.7,2808.5 593.7,2807.6 C602.7,2806.7 616.2,2805.2 627.4,2804.2 C638.6,2803.1 648.6,2802.3 661.1,2801.3 C673.6,2800.4 691.3,2799.2 702.5,2798.5 C713.8,2797.8 718.5,2797.5 728.5,2797.0 C738.4,2796.6 750.9,2796.1 762.2,2795.7 C773.4,2795.3 784.6,2795.0 795.8,2794.7 C807.1,2794.4 817.2,2794.2 829.5,2794.0 C841.9,2793.7 858.7,2793.6 870.0,2793.4 C881.2,2793.3 886.8,2793.2 896.9,2793.3 C907.0,2793.3 922.2,2793.4 930.6,2793.5 C939.0,2793.7 941.9,2793.8 947.5,2794.1 C953.1,2794.5 958.7,2795.1 964.3,2795.7 C969.9,2796.4 975.5,2797.2 981.2,2798.1 C986.8,2798.9 992.4,2799.9 998.0,2800.8 C1003.6,2801.7 1009.2,2802.7 1014.9,2803.5 C1020.5,2804.3 1027.0,2805.1 1031.7,2805.6 C1036.4,2806.2 1041.1,2806.4 1043.0,2806.5" fill="none" stroke="#FF0000" stroke-width="11.6" stroke-linejoin="round" stroke-linecap="round"/>
<polyline points="1043.0,2806.5 1049.0,2680.0" fill="none" stroke="#FF0000" stroke-width="11.6" stroke-linejoin="round" stroke-linecap="round"/>
<path d="M1049.0,2680.0 C1053.0,2680.0 1063.6,2680.3 1073.2,2680.1 C1082.9,2679.8 1095.7,2679.2 1106.9,2678.6 C1118.2,2678.0 1129.4,2677.1 1140.6,2676.6 C1151.9,2676.0 1158.8,2676.0 1174.3,2675.4 C1189.8,2674.8 1218.2,2673.8 1233.7,2673.0 C1249.2,2672.3 1256.2,2671.8 1267.4,2671.0 C1278.6,2670.3 1289.8,2669.2 1301.1,2668.3 C1312.3,2667.4 1322.3,2666.7 1334.8,2665.7 C1347.2,2664.7 1364.6,2663.3 1375.9,2662.3 C1387.1,2661.3 1392.2,2660.9 1402.2,2659.9 C1412.2,2659.0 1424.6,2657.7 1435.8,2656.6 C1447.1,2655.4 1458.3,2654.1 1469.5,2652.9 C1480.8,2651.7 1490.8,2650.5 1503.2,2649.2 C1515.7,2647.8 1533.1,2646.0 1544.3,2644.8 C1555.6,2643.6 1562.3,2642.9 1570.6,2642.1 C1578.9,2641.3 1590.3,2640.1 1594.2,2639.7" fill="none" stroke="#FF0000" stroke-width="11.6" stroke-linejoin="round" stroke-linecap="round"/>
<text transform="matrix(1.0093 0 0 1 1703.81 2499.80)" font-size="68" letter-spacing="1.03">(d)</text>
<text transform="matrix(1.0274 0 0 1 252.82 2572.60)" font-size="47.6" letter-spacing="3.92">80</text>
<text transform="matrix(1.0294 0 0 1 252.45 2663.95)" font-size="47.6" letter-spacing="4.17">60</text>
<text transform="matrix(1.0221 0 0 1 253.81 2755.30)" font-size="47.6" letter-spacing="3.24">40</text>
<text transform="matrix(1.0294 0 0 1 252.45 2846.65)" font-size="47.6" letter-spacing="4.17">20</text>
<text transform="matrix(1.0603 0 0 1 283.18 2938.00)" font-size="47.6">0</text>
<text transform="matrix(1.0187 0 0 1 146.67 3012.50)" font-size="47.6" letter-spacing="1.68">-100</text>
<text transform="matrix(0.9723 0 0 1 353.47 3012.50)" font-size="47.6">0</text>
<text transform="matrix(1.0290 0 0 1 489.86 3012.50)" font-size="47.6" letter-spacing="3.13">100</text>
<text transform="matrix(1.0246 0 0 1 659.56 3012.50)" font-size="47.6" letter-spacing="2.71">200</text>
<text transform="matrix(1.0224 0 0 1 828.64 3012.50)" font-size="47.6" letter-spacing="2.49">300</text>
<text transform="matrix(1.0199 0 0 1 997.84 3012.50)" font-size="47.6" letter-spacing="2.24">400</text>
<text transform="matrix(1.0228 0 0 1 1165.45 3012.50)" font-size="47.6" letter-spacing="2.54">500</text>
<text transform="matrix(1.0246 0 0 1 1333.43 3012.50)" font-size="47.6" letter-spacing="2.71">600</text>
<text transform="matrix(1.0250 0 0 1 1501.77 3012.50)" font-size="47.6" letter-spacing="2.75">700</text>
<text transform="matrix(1.0233 0 0 1 1670.73 3012.50)" font-size="47.6" letter-spacing="2.58">800</text>
<text transform="matrix(1.0145 0 0 1 784.08 3088.70)" font-size="47.6" letter-spacing="1.06">Age (years BP)</text>
<text transform="translate(174.20 2845.08) rotate(-90) scale(1.0135 1)" font-size="47.6" letter-spacing="0.96">Phase (°)</text>
</svg>
</body></html>
